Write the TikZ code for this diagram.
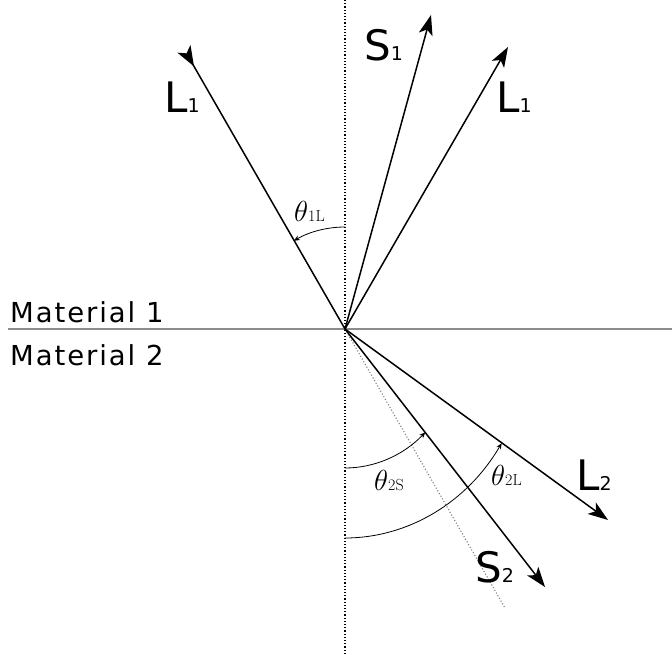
\RequirePackage{fix-cm}
\documentclass[tikz,border=0pt]{standalone}
\usepackage{fontspec}
\setsansfont{DejaVu Sans}
\usetikzlibrary{arrows.meta}
\newcommand\raylab[2]{{\sffamily\fontsize{42}{42}\selectfont #1\fontsize{19}{19}\selectfont #2}}
\newcommand\anglab[1]{{\fontsize{29}{29}\selectfont$\theta$\fontsize{16}{16}\selectfont\rmfamily #1}}
\tikzset{
  ray/.style={line width=1.5pt, -{Stealth[length=20pt,width=14pt,inset=5pt]}},
  inray/.style={line width=1.5pt, {Stealth[length=20pt,width=15pt,inset=5pt,reversed]}-},
  angarc/.style={line width=0.8pt, -{Stealth[length=6pt,width=5pt]}},
  lab/.style={inner sep=0pt, anchor=base west},
  mat/.style={inner sep=0pt, anchor=base west, font=\sffamily\fontsize{27.5}{27.5}\selectfont\addfontfeatures{LetterSpace=7}},
}
\begin{document}
\begin{tikzpicture}[x=1pt,y=1pt]
\useasboundingbox (0,0) rectangle (672,-655);
\coordinate (O) at (345,-329);
\coordinate (Vtop) at (345,0);
\coordinate (Vbot) at (345,-655);
\coordinate (Hl) at (8,-329);
\coordinate (Hr) at (672,-329);
\coordinate (Inc) at (184,-49);
\coordinate (S1t) at (431,-15);
\coordinate (L1t) at (508,-47);
\coordinate (L2t) at (608,-520);
\coordinate (S2t) at (545,-587);
\coordinate (Ext) at (505,-608);
% interface and normal
\draw[gray!90, line width=2pt] (Hl) -- (Hr);
\draw[line width=1.2pt, dotted] (Vtop) -- (Vbot);
\draw[gray, line width=1.1pt, dotted] (O) -- (Ext);
% rays
\draw[inray] (Inc) -- (O);
\draw[ray] (O) -- (S1t);
\draw[ray] (O) -- (L1t);
\draw[ray] (O) -- (L2t);
\draw[ray] (O) -- (S2t);
% angle arcs
\coordinate (A1) at (345,-227);
\draw[angarc] (A1) arc[start angle=90, end angle=120.1, radius=102];
\coordinate (A2) at (345,-468);
\draw[angarc] (A2) arc[start angle=-90, end angle=-48, x radius=120, y radius=139];
\coordinate (A3) at (345,-538);
\draw[angarc] (A3) arc[start angle=-90, end angle=-33.1, x radius=187, y radius=209];
% labels
\node[lab] (l1a) at (164,-113) {\raylab{L}{1}};
\node[lab] (s1) at (364,-61) {\raylab{S}{1}};
\node[lab] (l1b) at (496,-113) {\raylab{L}{1}};
\node[lab] (l2) at (576,-490) {\raylab{L}{2}};
\node[lab] (s2) at (475,-582) {\raylab{S}{2}};
\node[lab] (t1) at (294,-222) {\anglab{1L}};
\node[lab] (t2) at (374,-490) {\anglab{2S}};
\node[lab] (t3) at (491,-485) {\anglab{2L}};
\node[mat] (m1) at (10,-322) {Material 1};
\node[mat] (m2) at (10,-365) {Material 2};
\end{tikzpicture}
\end{document}
